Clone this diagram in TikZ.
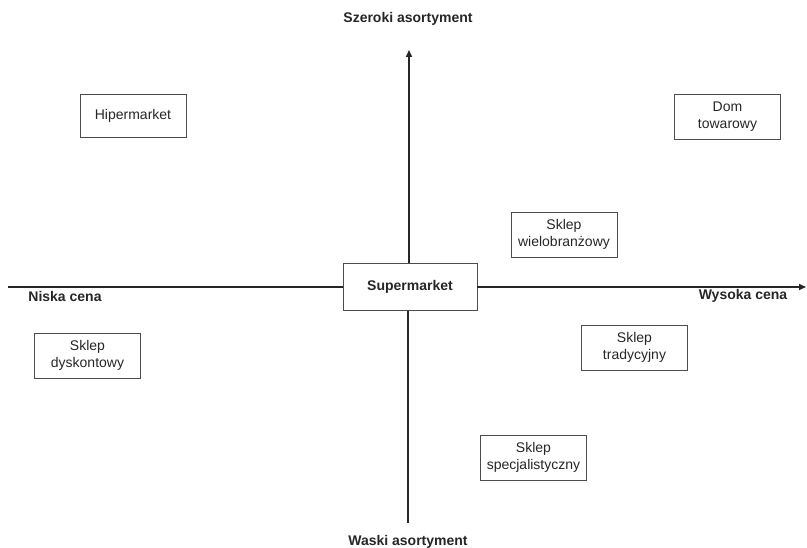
\documentclass[tikz,border=0pt]{standalone}
\usepackage{fontspec}
\setmainfont{Liberation Sans}
\usetikzlibrary{arrows.meta}
\begin{document}
\begin{tikzpicture}[x=1pt,y=-1pt,
  shop/.style={draw=black!70, line width=0.8pt, minimum width=106pt, minimum height=45pt, align=center, inner sep=2pt, font=\fontsize{14}{17}\selectfont, text=black!85},
  axislabel/.style={font=\fontsize{14}{17}\selectfont\bfseries, text=black!85},
  axis/.style={line width=1.6pt, draw=black!85},
  tip/.style={-{Triangle[length=7pt,width=6pt]}}]
\useasboundingbox (0,0) rectangle (807,548);
\node[shop, minimum width=134pt, minimum height=47pt, font=\fontsize{14}{17}\selectfont\bfseries] (sm) at (410,287) {Supermarket};
\coordinate (L) at (8,287);
\coordinate (R) at (806,287);
\coordinate (T) at (409,50);
\coordinate (B) at (408,523);
\draw[axis] (L) -- (sm.west);
\draw[axis,tip] (sm.east) -- (R);
\draw[axis,tip] (sm.north -| T) -- (T);
\draw[axis] (sm.south -| B) -- (B);
\node[axislabel] (top) at (408,19) {Szeroki asortyment};
\node[axislabel] (bot) at (408,542) {Waski asortyment};
\node[axislabel] (left) at (65,296) {Niska cena};
\node[axislabel] (right) at (743,296) {Wysoka cena};
\node[shop, minimum height=43pt] (hip) at (133,116) {Hipermarket};
\node[shop] (dom) at (727.5,117) {Dom\\towarowy};
\node[shop] (wiel) at (564,234.5) {Sklep\\wielobranżowy};
\node[shop] (dys) at (87.5,355.5) {Sklep\\dyskontowy};
\node[shop] (trad) at (634.5,347.5) {Sklep\\tradycyjny};
\node[shop] (spec) at (533.5,457.5) {Sklep\\specjalistyczny};
\end{tikzpicture}
\end{document}
